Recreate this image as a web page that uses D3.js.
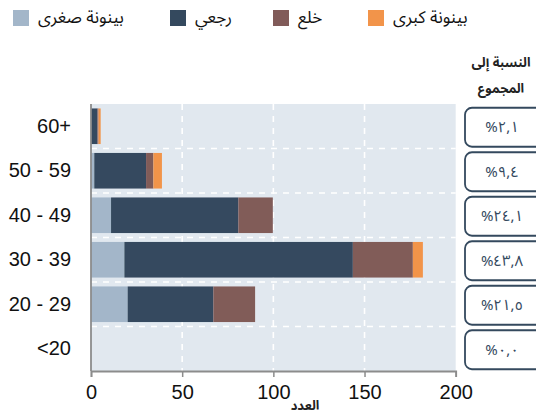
<!DOCTYPE html>
<html>
<head>
<meta charset="utf-8">
<script src="https://cdn.jsdelivr.net/npm/d3@7"></script>
<style>
  html, body { margin: 0; padding: 0; background: #ffffff; }
  svg { display: block; }
</style>
</head>
<body>
<svg id="chart" width="536" height="419"></svg>
<script>
// ---- data ----
const categories = ["60+", "50 - 59", "40 - 49", "30 - 39", "20 - 29", "<20"];
const seriesNames = ["بينونة صغرى", "رجعي", "خلع", "بينونة كبرى"];
const sughra = [0, 1.8, 11, 18.3, 20.1, 0];
const rajii  = [3.5, 28.4, 69.8, 125.3, 47, 0];
const khul   = [0.6, 4, 18.9, 32.9, 22.9, 0];
const kubra  = [1.2, 4.7, 0, 5.5, 0, 0];
const percents = [2.1, 9.4, 24.1, 43.8, 21.5, 0.0];
const xTicks = [0, 50, 100, 150, 200];
const xTitle = "العدد";
const pctTitle = ["النسبة إلى", "المجموع"];

const colors = ["#a3b6c9", "#34495e", "#815b59", "#f2944a"];
const arabicFont = "'Noto Sans Arabic', 'DejaVu Sans', sans-serif";
const latinFont = "'Liberation Sans', Arial, sans-serif";

const rows = categories.map((c, i) => ({
  cat: c, s0: sughra[i], s1: rajii[i], s2: khul[i], s3: kubra[i]
}));
const keys = ["s0", "s1", "s2", "s3"];
const stacked = d3.stack().keys(keys)(rows);

const svg = d3.select("#chart");

const x = d3.scaleLinear().domain([0, 200]).range([91, 455.7]);
const y = d3.scaleBand().domain(categories).range([104, 371])
  .paddingInner(0.2).paddingOuter(0.1);

// plot background
svg.append("rect")
  .attr("x", x(0)).attr("y", y.range()[0])
  .attr("width", x(200) - x(0)).attr("height", y.range()[1] - y.range()[0])
  .attr("fill", "#e1e8ef");

// grid: vertical dashed
svg.append("g").selectAll("line").data(xTicks.filter(t => t > 0 && t < 200)).join("line")
  .attr("x1", d => x(d)).attr("x2", d => x(d))
  .attr("y1", y.range()[0]).attr("y2", y.range()[1])
  .attr("stroke", "#ffffff").attr("stroke-width", 1.6)
  .attr("stroke-dasharray", "6,6");

// grid: horizontal dashed at band boundaries
const boundaries = categories.slice(0, -1).map(c => y(c) + y.bandwidth() + y.step() * y.paddingInner() / 2);
svg.append("g").selectAll("line").data(boundaries).join("line")
  .attr("x1", x(0)).attr("x2", x(200))
  .attr("y1", d => d).attr("y2", d => d)
  .attr("stroke", "#ffffff").attr("stroke-width", 1.6)
  .attr("stroke-dasharray", "6,6");

// bars
const defs = svg.append("defs");
const f = defs.append("filter").attr("id", "soft").attr("x", "-5%").attr("y", "-20%").attr("width", "110%").attr("height", "140%");
f.append("feGaussianBlur").attr("stdDeviation", 0.6);

svg.append("g").selectAll("g").data(stacked).join("g")
  .attr("fill", (d, i) => colors[i])
  .attr("filter", "url(#soft)")
  .selectAll("rect").data(d => d).join("rect")
  .attr("x", d => x(d[0]))
  .attr("width", d => Math.max(0, x(d[1]) - x(d[0])))
  .attr("y", d => y(d.data.cat))
  .attr("height", y.bandwidth());

// axes lines
const axisColor = "#8c8c8c";
svg.append("line").attr("x1", x(0)).attr("x2", x(0))
  .attr("y1", y.range()[0]).attr("y2", y.range()[1])
  .attr("stroke", axisColor).attr("stroke-width", 1.8);

const xAxis = d3.axisBottom(x).tickValues(xTicks).tickSize(6).tickPadding(8);
const gx = svg.append("g").attr("transform", `translate(0,${y.range()[1]})`).call(xAxis);
gx.select(".domain").attr("stroke", axisColor).attr("stroke-width", 1.8);
gx.selectAll(".tick line").attr("stroke", axisColor).attr("stroke-width", 1.5);
gx.selectAll(".tick text").attr("font-family", latinFont).attr("font-size", 20).attr("fill", "#111");

// y labels
const yAxis = d3.axisLeft(y).tickSize(0).tickPadding(20);
const gy = svg.append("g").attr("transform", `translate(${x(0)},0)`).call(yAxis);
gy.select(".domain").remove();
gy.selectAll(".tick text").attr("font-family", latinFont).attr("font-size", 20).attr("fill", "#111");

// x title
svg.append("text").attr("x", 305).attr("y", 410)
  .attr("text-anchor", "middle")
  .attr("font-family", arabicFont).attr("font-weight", "bold")
  .attr("font-size", 13).attr("fill", "#222").text(xTitle);

// percent header
svg.append("g").selectAll("text").data(pctTitle).join("text")
  .attr("x", 501).attr("y", (d, i) => 67 + i * 26)
  .attr("text-anchor", "middle")
  .attr("font-family", arabicFont).attr("font-weight", "bold")
  .attr("font-size", 13).attr("fill", "#222").text(d => d);

// percent boxes
const toArabic = s => s.replace(/[0-9]/g, d => "٠١٢٣٤٥٦٧٨٩"[+d]).replace(".", ",");
const boxes = svg.append("g").selectAll("g").data(categories).join("g")
  .attr("transform", c => `translate(0,${y(c) + y.bandwidth() / 2 + 1})`);
boxes.append("rect")
  .attr("x", 465).attr("y", -19.5).attr("width", 85).attr("height", 39)
  .attr("rx", 7).attr("ry", 7)
  .attr("fill", "#ffffff").attr("stroke", "#34495e").attr("stroke-width", 1.8);
boxes.append("text")
  .attr("x", 502).attr("y", 5)
  .attr("text-anchor", "middle")
  .attr("font-family", arabicFont).attr("font-size", 15).attr("fill", "#34495e")
  .text((c, i) => "%" + toArabic(percents[i].toFixed(1)));

// legend
const legendX = [13, 170, 273, 368];
const lg = svg.append("g").selectAll("g").data(seriesNames).join("g")
  .attr("transform", (d, i) => `translate(${legendX[i]},10)`);
lg.append("rect").attr("width", 16).attr("height", 16).attr("fill", (d, i) => colors[i]);
lg.append("text").attr("x", 25).attr("y", 13)
  .attr("font-family", arabicFont).attr("font-size", 17).attr("fill", "#111")
  .text(d => d);
</script>
</body>
</html>
